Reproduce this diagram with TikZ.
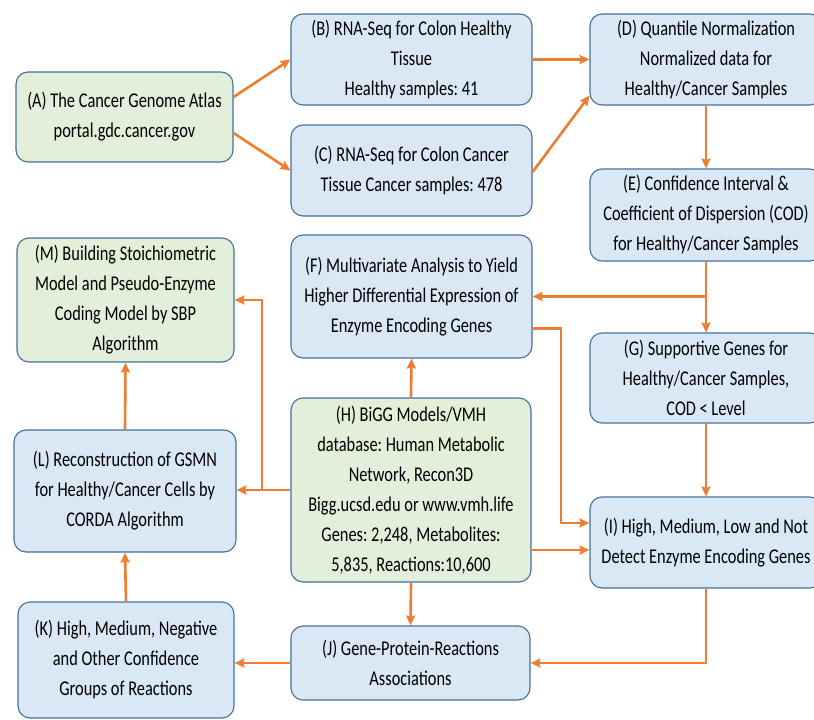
\documentclass[tikz,border=0pt]{standalone}
\usepackage{fontspec}
\setmainfont[FakeStretch=0.78]{Carlito}
\usetikzlibrary{arrows.meta,calc}
\definecolor{bfill}{HTML}{DAE8F6}
\definecolor{gfill}{HTML}{E2EFDA}
\definecolor{bdraw}{HTML}{41719C}
\definecolor{aorange}{HTML}{ED7D31}
\frenchspacing
\tikzset{
  box/.style={draw=bdraw, line width=1.1pt, rounded corners=12pt, fill=bfill,
    align=center, inner sep=0pt, text=black, font=\fontsize{21}{30}\selectfont},
  gbox/.style={box, fill=gfill},
  arr/.style={draw=aorange, line width=2.6pt, -{Stealth[length=10pt,width=9pt,inset=1.5pt]}},
}
\begin{document}
\begin{tikzpicture}[x=1pt,y=-1pt]
\useasboundingbox (0,0) rectangle (814,720);
\fill[white] (0,0) rectangle (814,720);
\node[gbox, minimum width=217pt, minimum height=90pt] (A) at (124.5,117) {(A) The Cancer Genome Atlas\\portal.gdc.cancer.gov};
\node[box, minimum width=241pt, minimum height=91pt] (B) at (411.5,59.5) {(B) RNA-Seq for Colon Healthy\\Tissue\\Healthy samples: 41};
\node[box, minimum width=241pt, minimum height=91pt] (C) at (411.5,170.5) {(C) RNA-Seq for Colon Cancer\\Tissue Cancer samples: 478};
\node[box, minimum width=232pt, minimum height=91pt] (D) at (706,59.5) {(D) Quantile Normalization\\Normalized data for\\Healthy/Cancer Samples};
\node[box, minimum width=232pt, minimum height=92pt] (E) at (706,215) {(E) Confidence Interval \&\\Coefficient of Dispersion (COD)\\for Healthy/Cancer Samples};
\node[box, minimum width=241pt, minimum height=123pt] (F) at (411.5,296.5) {(F) Multivariate Analysis to Yield\\Higher Differential Expression of\\Enzyme Encoding Genes};
\node[box, minimum width=232pt, minimum height=90pt] (G) at (706,378) {(G) Supportive Genes for\\Healthy/Cancer Samples,\\COD < Level};
\node[gbox, minimum width=240pt, minimum height=184pt] (H) at (411,490) {(H) BiGG Models/VMH\\database: Human Metabolic\\Network, Recon3D\\Bigg.ucsd.edu or www.vmh.life\\Genes: 2,248, Metabolites:\\5,835, Reactions:10,600};
\node[box, minimum width=232pt, minimum height=91pt] (I) at (706,542.5) {(I) High, Medium, Low and Not\\Detect Enzyme Encoding Genes};
\node[box, minimum width=239pt, minimum height=74pt] (J) at (410.5,663) {(J) Gene-Protein-Reactions\\Associations};
\node[box, minimum width=216pt, minimum height=116pt] (K) at (126,660) {(K) High, Medium, Negative\\and Other Confidence\\Groups of Reactions};
\node[box, minimum width=222pt, minimum height=122pt] (L) at (125,491) {(L) Reconstruction of GSMN\\for Healthy/Cancer Cells by\\CORDA Algorithm};
\node[gbox, minimum width=217pt, minimum height=124pt] (M) at (125.5,300) {(M) Building Stoichiometric\\Model and Pseudo-Enzyme\\Coding Model by SBP\\Algorithm};
% connectors
\draw[arr] ([yshift=20pt]A.east) -- (B.west);
\draw[arr] ([yshift=-16pt]A.east) -- (C.west);
\draw[arr] (B.east) -- (D.west);
\draw[arr] ([yshift=-1.5pt]C.east) -- ([yshift=10pt]D.south west);
\draw[arr] (D.south) -- (E.north);
\draw[arr] (E.south) -- (G.north);
\draw[arr] (E.south |- F.east) -- (F.east);
\coordinate (fi) at (561,0);
\draw[arr] ([yshift=-32pt]F.east) -| ([yshift=19.5pt]fi |- I.west) -- ([yshift=19.5pt]I.west);
\draw[arr] ([yshift=-60pt]H.east) -- ([yshift=-60pt]H.east -| I.west);
\draw[arr] (G.south) -- (I.north);
\draw[arr] (I.south) |- (J.east);
\draw[arr] (J.west) -- (J.west -| K.east);
\draw[arr] (H.south) -- (J.north);
\draw[arr] (H.north) -- (F.south);
\draw[arr] (K.north) -- (L.south);
\draw[arr] (L.north) -- (M.south);
\draw[arr] (H.west) -- (H.west -| L.east);
\coordinate (hl) at (262,490);
\draw[arr] (hl) |- (M.east);
\end{tikzpicture}
\end{document}
